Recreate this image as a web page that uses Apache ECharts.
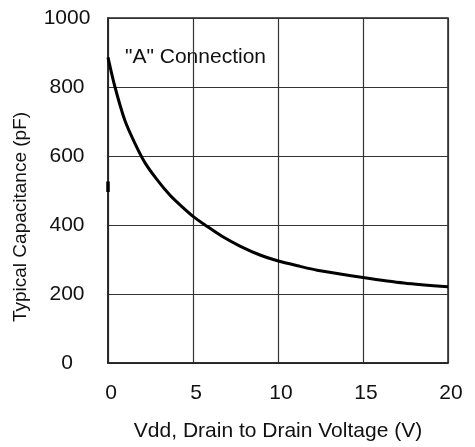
<!DOCTYPE html>
<html><head><meta charset="utf-8">
<script src="https://cdn.jsdelivr.net/npm/echarts@6/dist/echarts.min.js"></script>
<style>html,body{margin:0;padding:0;background:#fff}#c{width:475px;height:447px}</style>
</head><body><div id="c"></div>
<script>
const voltage = [0, 0.41, 1.0, 1.59, 2.18, 2.86, 3.65, 4.24, 5.0, 5.8, 6.78, 7.76, 8.94, 9.92, 11.3, 12.3, 15.0, 17.4, 20];
const capacitance = [886, 800, 702, 636, 580, 533, 486, 458, 425, 397, 365, 339, 313, 297, 280, 269, 248, 232, 221];
const markV = [0, 0];
const markC = [496, 526];
const xTicks = [0, 5, 10, 15, 20];
const yTicks = [0, 200, 400, 600, 800, 1000];
const annotation = '"A" Connection';
const xName = 'Vdd, Drain to Drain Voltage (V)';
const yName = 'Typical Capacitance (pF)';

const chart = echarts.init(document.getElementById('c'), null, {renderer: 'canvas'});
const font = 'Liberation Sans, Arial, Helvetica, sans-serif';
chart.setOption({
  animation: false,
  backgroundColor: '#fff',
  grid: {left: 108, right: 27, top: 18, bottom: 75, show: true, borderColor: '#222', borderWidth: 1.5, backgroundColor: 'transparent'},
  xAxis: {
    type: 'value', min: xTicks[0], max: xTicks[xTicks.length-1], interval: 5,
    name: xName, nameLocation: 'middle', nameGap: 58,
    nameTextStyle: {fontFamily: font, fontSize: 21, color: '#111'},
    axisLine: {show: true, lineStyle: {color: '#222', width: 1.5}},
    axisTick: {show: false},
    axisLabel: {fontFamily: font, fontSize: 21, color: '#111', margin: 20, padding: [0,0,0,6]},
    splitLine: {show: true, lineStyle: {color: '#333', width: 1.2}}
  },
  yAxis: {
    type: 'value', min: yTicks[0], max: yTicks[yTicks.length-1], interval: 200,
    axisLine: {show: true, lineStyle: {color: '#222', width: 1.5}},
    axisTick: {show: false},
    axisLabel: {fontFamily: font, fontSize: 21, color: '#111', margin: 41, align: 'center',
                padding: [0,0,7,0], formatter: v => String(v)},
    splitLine: {show: true, lineStyle: {color: '#333', width: 1.2}}
  },
  series: [
    {type: 'line', data: voltage.map((v,i)=>[v, capacitance[i]]), smooth: 0.3, showSymbol: false,
     lineStyle: {color: '#000', width: 3}, z: 5},
    {type: 'line', data: markV.map((v,i)=>[v, markC[i]]), showSymbol: false,
     lineStyle: {color: '#000', width: 3.5}, z: 5}
  ],
  graphic: [
    {type: 'text', x: 125, y: 57,
     style: {text: annotation, font: '21px ' + font, fill: '#111', textAlign: 'left', textVerticalAlign: 'middle'}},
    {type: 'text', x: 21, y: 217, rotation: Math.PI/2,
     style: {text: yName, font: '19px ' + font, fill: '#111', textAlign: 'center', textVerticalAlign: 'middle'}}
  ]
});
</script></body></html>
